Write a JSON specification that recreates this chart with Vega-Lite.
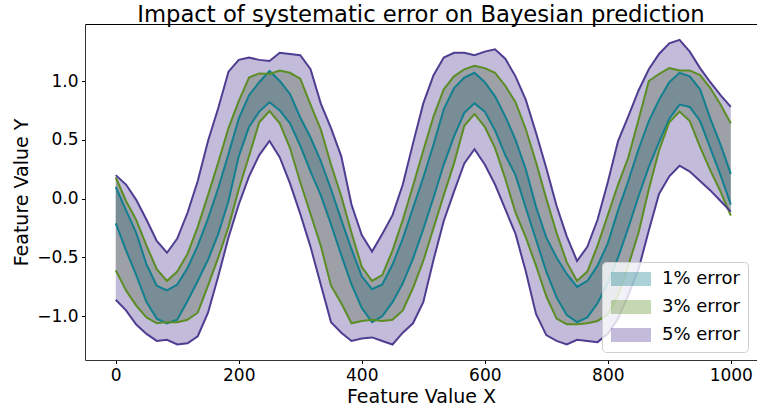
{
 "$schema": "https://vega.github.io/schema/vega-lite/v6.json",
 "width": 672, "height": 336,
 "autosize": {"type": "none"},
 "padding": {"left": 85, "top": 24, "right": 0, "bottom": 49},
 "title": {"text": "Impact of systematic error on Bayesian prediction", "fontSize": 22.7, "font": "DejaVu Sans", "fontWeight": "normal", "color": "#000", "offset": 0, "dy": 3, "anchor": "middle"},
 "config": {"view": {"stroke": null}, "axis": {"labelFont": "DejaVu Sans", "titleFont": "DejaVu Sans", "labelFontSize": 17, "titleFontSize": 19, "titleFontWeight": "normal", "labelColor": "#000", "titleColor": "#000", "tickColor": "#000", "domainColor": "#333", "tickSize": 3.5, "labelPadding": 3.5, "grid": false}},
 "data": {"values": [
  {"x":0,"t_lo":-0.21,"t_hi":0.10,"g_lo":-0.61,"g_hi":0.18,"p_lo":-0.86,"p_hi":0.20},
  {"x":16.7,"t_lo":-0.44,"t_hi":-0.10,"g_lo":-0.78,"g_hi":-0.02,"p_lo":-0.95,"p_hi":0.12},
  {"x":33.3,"t_lo":-0.65,"t_hi":-0.29,"g_lo":-0.91,"g_hi":-0.18,"p_lo":-1.07,"p_hi":-0.01},
  {"x":50,"t_lo":-0.88,"t_hi":-0.56,"g_lo":-1.01,"g_hi":-0.40,"p_lo":-1.15,"p_hi":-0.18},
  {"x":66.7,"t_lo":-1.02,"t_hi":-0.74,"g_lo":-1.06,"g_hi":-0.60,"p_lo":-1.21,"p_hi":-0.36},
  {"x":83.3,"t_lo":-1.06,"t_hi":-0.78,"g_lo":-1.05,"g_hi":-0.70,"p_lo":-1.20,"p_hi":-0.46},
  {"x":100,"t_lo":-1.03,"t_hi":-0.73,"g_lo":-1.05,"g_hi":-0.62,"p_lo":-1.24,"p_hi":-0.34},
  {"x":116.7,"t_lo":-0.87,"t_hi":-0.59,"g_lo":-1.03,"g_hi":-0.47,"p_lo":-1.23,"p_hi":-0.12},
  {"x":133.3,"t_lo":-0.70,"t_hi":-0.40,"g_lo":-0.97,"g_hi":-0.24,"p_lo":-1.17,"p_hi":0.15},
  {"x":150,"t_lo":-0.52,"t_hi":-0.17,"g_lo":-0.74,"g_hi":0.03,"p_lo":-0.97,"p_hi":0.49},
  {"x":166.7,"t_lo":-0.30,"t_hi":0.09,"g_lo":-0.50,"g_hi":0.31,"p_lo":-0.66,"p_hi":0.77},
  {"x":183.3,"t_lo":-0.02,"t_hi":0.38,"g_lo":-0.24,"g_hi":0.60,"p_lo":-0.33,"p_hi":1.08},
  {"x":200,"t_lo":0.36,"t_hi":0.68,"g_lo":0.08,"g_hi":0.83,"p_lo":-0.05,"p_hi":1.18},
  {"x":216.7,"t_lo":0.61,"t_hi":0.88,"g_lo":0.36,"g_hi":1.03,"p_lo":0.19,"p_hi":1.20},
  {"x":233.3,"t_lo":0.74,"t_hi":0.99,"g_lo":0.65,"g_hi":1.065,"p_lo":0.37,"p_hi":1.18},
  {"x":250,"t_lo":0.82,"t_hi":1.085,"g_lo":0.745,"g_hi":1.06,"p_lo":0.49,"p_hi":1.17},
  {"x":266.7,"t_lo":0.75,"t_hi":1.00,"g_lo":0.64,"g_hi":1.09,"p_lo":0.35,"p_hi":1.24},
  {"x":283.3,"t_lo":0.64,"t_hi":0.89,"g_lo":0.43,"g_hi":1.07,"p_lo":0.13,"p_hi":1.23},
  {"x":300,"t_lo":0.45,"t_hi":0.69,"g_lo":0.14,"g_hi":1.02,"p_lo":-0.13,"p_hi":1.22},
  {"x":316.7,"t_lo":0.23,"t_hi":0.52,"g_lo":-0.13,"g_hi":0.80,"p_lo":-0.41,"p_hi":1.10},
  {"x":333.3,"t_lo":0.03,"t_hi":0.32,"g_lo":-0.40,"g_hi":0.59,"p_lo":-0.73,"p_hi":0.81},
  {"x":350,"t_lo":-0.22,"t_hi":0.08,"g_lo":-0.74,"g_hi":0.29,"p_lo":-1.05,"p_hi":0.60},
  {"x":366.7,"t_lo":-0.48,"t_hi":-0.18,"g_lo":-0.89,"g_hi":0.02,"p_lo":-1.14,"p_hi":0.36},
  {"x":383.3,"t_lo":-0.73,"t_hi":-0.43,"g_lo":-1.06,"g_hi":-0.29,"p_lo":-1.21,"p_hi":-0.05},
  {"x":400,"t_lo":-0.93,"t_hi":-0.66,"g_lo":-1.04,"g_hi":-0.58,"p_lo":-1.19,"p_hi":-0.31},
  {"x":416.7,"t_lo":-1.05,"t_hi":-0.77,"g_lo":-1.03,"g_hi":-0.70,"p_lo":-1.18,"p_hi":-0.45},
  {"x":433.3,"t_lo":-1.00,"t_hi":-0.73,"g_lo":-1.04,"g_hi":-0.65,"p_lo":-1.21,"p_hi":-0.30},
  {"x":450,"t_lo":-0.88,"t_hi":-0.56,"g_lo":-1.03,"g_hi":-0.44,"p_lo":-1.24,"p_hi":-0.14},
  {"x":466.7,"t_lo":-0.72,"t_hi":-0.34,"g_lo":-0.95,"g_hi":-0.18,"p_lo":-1.14,"p_hi":0.12},
  {"x":483.3,"t_lo":-0.51,"t_hi":-0.08,"g_lo":-0.76,"g_hi":0.11,"p_lo":-1.06,"p_hi":0.47},
  {"x":500,"t_lo":-0.26,"t_hi":0.18,"g_lo":-0.53,"g_hi":0.41,"p_lo":-0.88,"p_hi":0.81},
  {"x":516.7,"t_lo":0.01,"t_hi":0.46,"g_lo":-0.25,"g_hi":0.70,"p_lo":-0.52,"p_hi":1.05},
  {"x":533.3,"t_lo":0.29,"t_hi":0.76,"g_lo":0.03,"g_hi":0.93,"p_lo":-0.19,"p_hi":1.20},
  {"x":550,"t_lo":0.53,"t_hi":0.94,"g_lo":0.30,"g_hi":1.04,"p_lo":0.06,"p_hi":1.24},
  {"x":566.7,"t_lo":0.73,"t_hi":1.03,"g_lo":0.62,"g_hi":1.10,"p_lo":0.30,"p_hi":1.24},
  {"x":583.3,"t_lo":0.81,"t_hi":1.07,"g_lo":0.72,"g_hi":1.13,"p_lo":0.42,"p_hi":1.22},
  {"x":600,"t_lo":0.74,"t_hi":0.99,"g_lo":0.61,"g_hi":1.11,"p_lo":0.29,"p_hi":1.25},
  {"x":616.7,"t_lo":0.58,"t_hi":0.87,"g_lo":0.43,"g_hi":1.07,"p_lo":0.12,"p_hi":1.27},
  {"x":633.3,"t_lo":0.37,"t_hi":0.70,"g_lo":0.17,"g_hi":0.96,"p_lo":-0.09,"p_hi":1.19},
  {"x":650,"t_lo":0.20,"t_hi":0.50,"g_lo":-0.12,"g_hi":0.82,"p_lo":-0.30,"p_hi":1.04},
  {"x":666.7,"t_lo":-0.08,"t_hi":0.25,"g_lo":-0.33,"g_hi":0.59,"p_lo":-0.62,"p_hi":0.84},
  {"x":683.3,"t_lo":-0.35,"t_hi":-0.07,"g_lo":-0.57,"g_hi":0.31,"p_lo":-0.98,"p_hi":0.56},
  {"x":700,"t_lo":-0.62,"t_hi":-0.33,"g_lo":-0.83,"g_hi":0.00,"p_lo":-1.16,"p_hi":0.26},
  {"x":716.7,"t_lo":-0.84,"t_hi":-0.50,"g_lo":-1.02,"g_hi":-0.29,"p_lo":-1.21,"p_hi":-0.06},
  {"x":733.3,"t_lo":-0.99,"t_hi":-0.64,"g_lo":-1.067,"g_hi":-0.54,"p_lo":-1.24,"p_hi":-0.32},
  {"x":750,"t_lo":-1.05,"t_hi":-0.75,"g_lo":-1.067,"g_hi":-0.70,"p_lo":-1.20,"p_hi":-0.53},
  {"x":766.7,"t_lo":-1.01,"t_hi":-0.70,"g_lo":-1.06,"g_hi":-0.62,"p_lo":-1.21,"p_hi":-0.41},
  {"x":783.3,"t_lo":-0.89,"t_hi":-0.57,"g_lo":-1.04,"g_hi":-0.40,"p_lo":-1.22,"p_hi":-0.18},
  {"x":800,"t_lo":-0.72,"t_hi":-0.38,"g_lo":-0.985,"g_hi":-0.14,"p_lo":-1.15,"p_hi":0.14},
  {"x":816.7,"t_lo":-0.50,"t_hi":-0.10,"g_lo":-0.82,"g_hi":0.12,"p_lo":-1.02,"p_hi":0.49},
  {"x":833.3,"t_lo":-0.25,"t_hi":0.15,"g_lo":-0.57,"g_hi":0.35,"p_lo":-0.82,"p_hi":0.70},
  {"x":850,"t_lo":0.02,"t_hi":0.42,"g_lo":-0.29,"g_hi":0.67,"p_lo":-0.60,"p_hi":0.92},
  {"x":866.7,"t_lo":0.27,"t_hi":0.66,"g_lo":0.08,"g_hi":1.00,"p_lo":-0.27,"p_hi":1.10},
  {"x":883.3,"t_lo":0.48,"t_hi":0.84,"g_lo":0.41,"g_hi":1.06,"p_lo":0.04,"p_hi":1.23},
  {"x":900,"t_lo":0.68,"t_hi":0.99,"g_lo":0.65,"g_hi":1.11,"p_lo":0.19,"p_hi":1.32},
  {"x":916.7,"t_lo":0.80,"t_hi":1.07,"g_lo":0.74,"g_hi":1.09,"p_lo":0.28,"p_hi":1.35},
  {"x":933.3,"t_lo":0.78,"t_hi":1.04,"g_lo":0.66,"g_hi":1.09,"p_lo":0.23,"p_hi":1.25},
  {"x":950,"t_lo":0.66,"t_hi":0.93,"g_lo":0.44,"g_hi":1.05,"p_lo":0.15,"p_hi":1.11},
  {"x":966.7,"t_lo":0.43,"t_hi":0.68,"g_lo":0.24,"g_hi":0.94,"p_lo":0.07,"p_hi":0.99},
  {"x":983.3,"t_lo":0.20,"t_hi":0.46,"g_lo":0.06,"g_hi":0.80,"p_lo":-0.02,"p_hi":0.88},
  {"x":1000,"t_lo":-0.05,"t_hi":0.21,"g_lo":-0.145,"g_hi":0.64,"p_lo":-0.11,"p_hi":0.78}
 ]},
 "resolve": {"axis": {"x": "independent", "y": "independent"}},
 "layer": [
  {"mark": {"type": "area", "opacity": 0.35},
   "encoding": {
    "x": {"field": "x", "type": "quantitative", "scale": {"domain": [-50, 1042.6], "nice": false, "zero": false}, "axis": {"values": [0,200,400,600,800,1000], "format": "d", "title": "Feature Value X", "titlePadding": 4}},
    "y": {"field": "t_lo", "type": "quantitative", "scale": {"domain": [-1.372, 1.485], "nice": false, "zero": false}, "axis": {"values": [-1,-0.5,0,0.5,1], "format": ".1f", "title": "Feature Value Y", "titlePadding": 5}},
    "y2": {"field": "t_hi"},
    "color": {"datum": "1% error", "type": "nominal", "scale": {"domain": ["1% error","3% error","5% error"], "range": ["#117f8f","#5c8d24","#4f3d92"]},
     "legend": {"title": null, "orient": "none", "legendX": 517, "legendY": 238, "symbolType": "M-2.5,-0.875H2.5V0.875H-2.5Z", "symbolSize": 256, "symbolOpacity": 0.35, "symbolStrokeWidth": 0, "labelFontSize": 18, "labelFont": "DejaVu Sans", "labelColor": "#000", "padding": 8, "fillColor": "rgba(255,255,255,0.8)", "strokeColor": "#d0d0d0", "cornerRadius": 4, "rowPadding": 10, "labelOffset": 22, "symbolOffset": 12}}
   }},
  {"mark": {"type": "area", "opacity": 0.35},
   "encoding": {
    "x": {"field": "x", "type": "quantitative", "axis": null},
    "y": {"field": "g_lo", "type": "quantitative", "axis": null},
    "y2": {"field": "g_hi"},
    "color": {"datum": "3% error", "type": "nominal"}
   }},
  {"mark": {"type": "area", "opacity": 0.35},
   "encoding": {
    "x": {"field": "x", "type": "quantitative", "axis": null},
    "y": {"field": "p_lo", "type": "quantitative", "axis": null},
    "y2": {"field": "p_hi"},
    "color": {"datum": "5% error", "type": "nominal"}
   }},
  {"mark": {"type": "line", "color": "#117f8f", "strokeWidth": 2},
   "encoding": {"x": {"field": "x", "type": "quantitative", "axis": null}, "y": {"field": "t_lo", "type": "quantitative", "axis": null}}},
  {"mark": {"type": "line", "color": "#117f8f", "strokeWidth": 2},
   "encoding": {"x": {"field": "x", "type": "quantitative", "axis": null}, "y": {"field": "t_hi", "type": "quantitative", "axis": null}}},
  {"mark": {"type": "line", "color": "#5c8d24", "strokeWidth": 2},
   "encoding": {"x": {"field": "x", "type": "quantitative", "axis": null}, "y": {"field": "g_lo", "type": "quantitative", "axis": null}}},
  {"mark": {"type": "line", "color": "#5c8d24", "strokeWidth": 2},
   "encoding": {"x": {"field": "x", "type": "quantitative", "axis": null}, "y": {"field": "g_hi", "type": "quantitative", "axis": null}}},
  {"mark": {"type": "line", "color": "#4f3d92", "strokeWidth": 2},
   "encoding": {"x": {"field": "x", "type": "quantitative", "axis": null}, "y": {"field": "p_lo", "type": "quantitative", "axis": null}}},
  {"mark": {"type": "line", "color": "#4f3d92", "strokeWidth": 2},
   "encoding": {"x": {"field": "x", "type": "quantitative", "axis": {"orient": "top", "labels": false, "ticks": false, "title": null, "domainColor": "#000", "domainWidth": 1}}, "y": {"field": "p_hi", "type": "quantitative", "axis": null}}}
 ]
}
